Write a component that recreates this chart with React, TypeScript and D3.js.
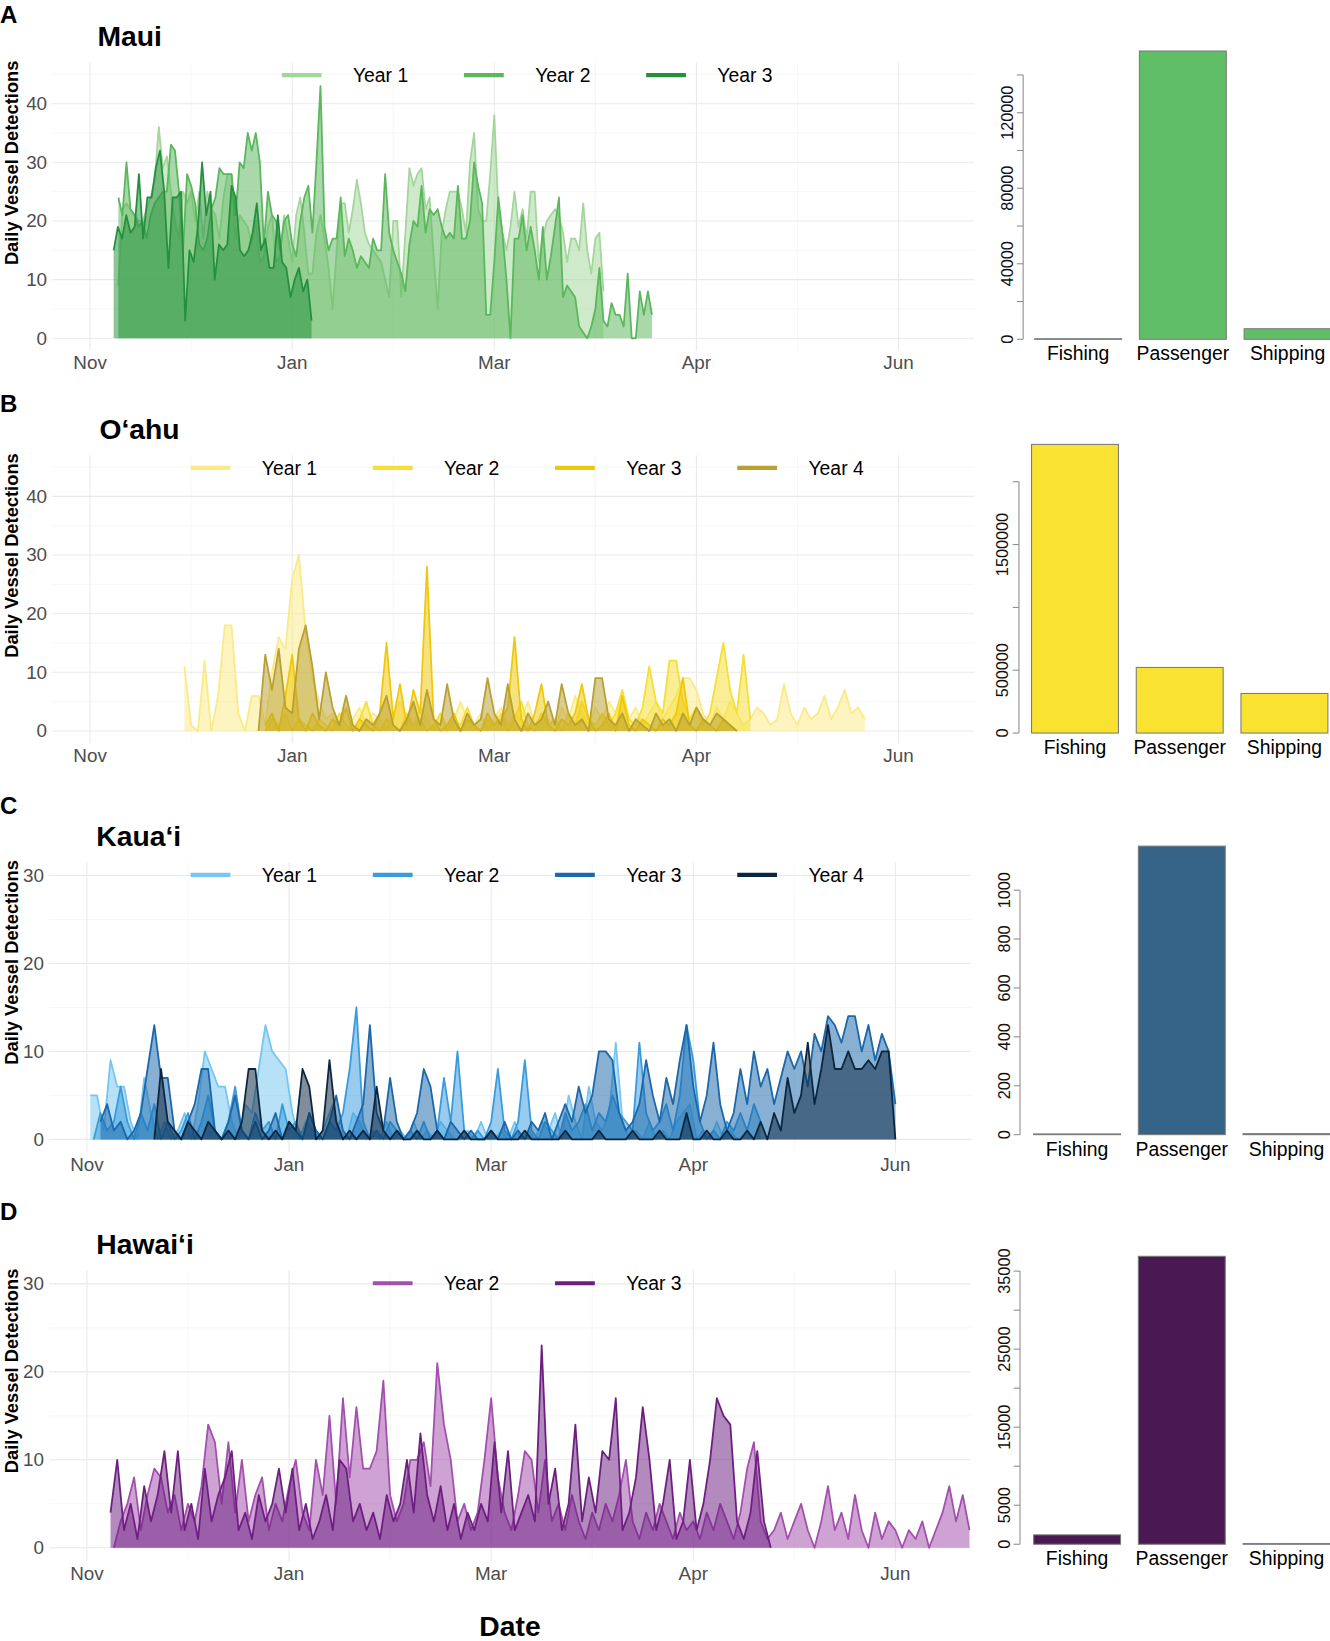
import * as d3 from 'd3';

// Daily vessel detections; x position = days after 1 Nov (axis labels are the original ones)
const mauiYear1 = [
  9, 22, 23, 22, 21, 20, 20, 22, 24, 27, 36, 29, 31, 25, 20, 17, 25, 23, 25, 20,
  25, 17, 25, 22, 21, 17, 24, 28, 28, 17, 21, 20, 19, 16, 20, 13, 14, 19, 21, 13,
  14, 21, 17, 13, 21, 24, 18, 11, 11, 18, 21, 17, 12, 5, 15, 23, 23, 18, 22, 27,
  23, 18, 16, 15, 14, 13, 10, 7, 20, 20, 7, 18, 29, 26, 28, 29, 22, 24, 14, 5,
  18, 22, 25, 25, 25, 22, 18, 30, 35, 22, 20, 20, 28, 38, 22, 18, 15, 19, 25, 19,
  22, 17, 25, 25, 13, 17, 20, 21, 22, 21, 18, 13, 17, 17, 15, 23, 15, 11, 17, 18, 8,
];
const mauiYear2 = [
  24, 21, 30, 22, 21, 19, 20, 17, 21, 23, 24, 25, 25, 33, 32, 25, 15, 28, 26, 23,
  16, 15, 17, 22, 24, 29, 28, 28, 28, 21, 30, 29, 35, 32, 35, 30, 16, 25, 21, 20,
  15, 20, 21, 16, 14, 20, 24, 26, 18, 30, 43, 19, 15, 17, 17, 24, 14, 17, 15, 12,
  14, 13, 12, 17, 15, 15, 28, 18, 15, 13, 11, 8, 16, 20, 19, 26, 18, 22, 21, 22,
  19, 17, 18, 17, 26, 17, 17, 20, 30, 26, 23, 4, 4, 13, 24, 18, 10, 0, 17, 17,
  21, 15, 19, 15, 10, 19, 10, 14, 19, 24, 7, 9, 8, 7, 2, 1, 0, 2, 5, 12,
  3, 2, 6, 4, 4, 2, 11, 0, 0, 8, 4, 8, 4,
];
const mauiYear3 = [
  15, 19, 17, 21, 18, 19, 28, 17, 24, 24, 29, 32, 25, 12, 24, 24, 25, 3, 15, 13,
  19, 30, 21, 25, 10, 16, 15, 16, 26, 24, 15, 14, 15, 18, 23, 15, 17, 12, 12, 21,
  13, 12, 7, 10, 12, 8, 10, 3,
];

const oahuYear1 = [
  11, 1, 0, 12, 0, 6, 18, 18, 3, 0, 6, 6, 1, 10, 16, 14, 26, 30, 17, 9,
  5, 2, 3, 1, 0, 2, 4, 1, 3, 2, 0, 3, 5, 2, 1, 4, 2, 0, 3, 1,
  2, 5, 2, 1, 3, 0, 2, 4, 1, 3, 2, 5, 1, 3, 2, 0, 4, 2, 6, 3,
  1, 4, 2, 5, 3, 6, 2, 4, 1, 3, 5, 2, 4, 6, 9, 9, 7, 3, 1, 4,
  2, 5, 3, 1, 2, 4, 3, 1, 2, 8, 3, 1, 4, 2, 3, 6, 2, 4, 7, 3, 4, 2,
];
const oahuYear2 = [
  0, 2, 1, 3, 0, 2, 1, 0, 2, 1, 0, 3, 1, 0, 2, 5, 1, 0, 2, 1,
  0, 3, 1, 2, 0, 1, 3, 0, 2, 1, 4, 1, 0, 2, 1, 3, 0, 2, 5, 1,
  0, 3, 1, 2, 0, 3, 1, 5, 2, 1, 3, 1, 3, 7, 2, 1, 4, 11, 5, 3,
  12, 12, 5, 2, 4, 1, 3, 9, 15, 7, 3, 13, 2,
];
const oahuYear3 = [
  1, 3, 0, 6, 13, 2, 0, 3, 1, 0, 2, 1, 4, 0, 2, 1, 0, 3, 15, 2,
  8, 1, 7, 3, 28, 2, 0, 1, 3, 0, 2, 1, 0, 3, 1, 2, 4, 16, 2, 0,
  3, 8, 1, 0, 2, 1, 3, 8, 2, 0, 1, 3, 0, 6, 1, 0, 2, 1, 0, 2,
  1, 3, 9, 1, 0, 2, 1, 0, 2, 1, 0,
];
const oahuYear4 = [
  0, 13, 7, 14, 4, 3, 14, 18, 11, 2, 10, 4, 1, 6, 1, 0, 2, 1, 3, 6,
  1, 0, 2, 5, 1, 7, 2, 1, 8, 2, 0, 3, 1, 2, 9, 3, 1, 8, 2, 0,
  3, 1, 2, 5, 1, 8, 3, 1, 2, 0, 9, 9, 2, 1, 3, 0, 2, 1, 0, 3,
  1, 2, 0, 3, 1, 4, 2, 1, 3, 2, 1, 0,
];

const kauaiYear1 = [
  5, 5, 1, 9, 6, 6, 2, 0, 7, 3, 0, 2, 0, 1, 3, 0, 4, 10, 8, 6,
  6, 2, 0, 4, 3, 8, 13, 10, 9, 8, 3, 0, 2, 1, 0, 2, 4, 1, 0, 3,
  2, 0, 1, 0, 2, 0, 1, 0, 2, 0, 1, 0, 2, 1, 0, 0, 1, 0, 2, 0,
  0, 1, 0, 2, 0, 1, 0, 2, 1, 3, 0, 5, 2, 0, 6, 2, 1, 3, 11, 2,
  0, 1, 0, 2, 0, 1, 0, 2, 3, 4, 0, 1, 0, 2, 0, 1, 0,
];
const kauaiYear2 = [
  0, 3, 1, 2, 6, 2, 0, 3, 1, 4, 0, 2, 0, 1, 3, 0, 2, 5, 1, 0,
  2, 6, 1, 0, 3, 1, 2, 0, 4, 1, 2, 0, 3, 1, 0, 2, 1, 3, 8, 15,
  2, 0, 1, 0, 2, 1, 0, 1, 0, 2, 0, 1, 7, 2, 10, 1, 0, 1, 0, 2,
  8, 1, 0, 2, 9, 1, 0, 2, 1, 0, 3, 1, 2, 4, 1, 3, 2, 5, 3, 2,
  1, 11, 3, 1, 2, 4, 1, 5, 13, 9, 2, 0, 1, 0, 2, 1, 3, 1, 4, 2,
];
const kauaiYear3 = [
  2, 4, 1, 2, 0, 1, 3, 8, 13, 7, 7, 1, 0, 2, 4, 8, 8, 1, 0, 2,
  5, 1, 0, 2, 0, 1, 3, 0, 2, 1, 0, 3, 1, 0, 2, 5, 1, 0, 2, 4,
  13, 3, 1, 7, 2, 0, 1, 3, 8, 6, 1, 0, 2, 1, 0, 1, 0, 0, 1, 0,
  2, 0, 1, 0, 2, 1, 3, 0, 2, 4, 2, 6, 3, 5, 10, 10, 9, 3, 1, 2,
  4, 9, 5, 2, 7, 4, 9, 13, 6, 2, 5, 11, 4, 1, 3, 8, 4, 10, 6, 8,
  4, 7, 10, 8, 10, 6, 12, 10, 14, 13, 11, 14, 14, 10, 13, 9, 12, 10, 4,
];
const kauaiYear4 = [
  0, 8, 2, 1, 0, 2, 1, 0, 2, 1, 0, 1, 0, 2, 8, 8, 1, 0, 1, 0,
  2, 1, 8, 6, 0, 1, 9, 2, 0, 1, 0, 1, 0, 6, 1, 0, 1, 0, 0, 1,
  0, 0, 1, 0, 0, 0, 1, 0, 0, 0, 1, 0, 0, 0, 0, 1, 0, 0, 0, 0,
  0, 1, 0, 0, 0, 0, 1, 0, 0, 0, 0, 1, 0, 0, 0, 1, 0, 0, 0, 3,
  0, 0, 1, 0, 0, 1, 0, 0, 1, 0, 2, 0, 3, 1, 7, 3, 5, 11, 4, 8,
  13, 8, 8, 10, 8, 8, 9, 8, 10, 10, 0,
];

const hawaiiYear2 = [
  0, 3, 5, 8, 2, 6, 9, 8, 4, 6, 2, 5, 3, 7, 14, 12, 5, 12, 4, 10,
  3, 6, 8, 2, 5, 3, 7, 10, 4, 2, 10, 6, 15, 5, 17, 8, 16, 9, 9, 11,
  19, 6, 3, 5, 10, 10, 12, 7, 21, 14, 10, 3, 5, 2, 4, 10, 17, 8, 4, 2,
  6, 11, 10, 4, 10, 3, 5, 2, 6, 3, 1, 4, 2, 5, 3, 6, 10, 3, 1, 4,
  2, 5, 3, 1, 4, 2, 3, 1, 4, 2, 5, 3, 1, 4, 9, 12, 3, 1, 2, 4,
  1, 3, 5, 2, 0, 3, 7, 2, 4, 1, 6, 2, 0, 4, 1, 3, 2, 0, 2, 1,
  3, 0, 2, 4, 7, 3, 6, 2,
];
const hawaiiYear3 = [
  4, 10, 2, 5, 1, 7, 3, 6, 11, 4, 11, 2, 5, 1, 9, 3, 6, 8, 11, 2,
  4, 1, 6, 3, 5, 9, 4, 9, 2, 5, 1, 3, 6, 2, 10, 9, 3, 5, 2, 4,
  1, 6, 3, 5, 10, 4, 13, 6, 3, 7, 2, 5, 1, 4, 2, 5, 3, 12, 4, 11,
  2, 4, 6, 3, 23, 5, 9, 2, 5, 14, 3, 8, 4, 11, 10, 17, 2, 4, 8, 16,
  10, 2, 5, 10, 1, 3, 10, 2, 5, 10, 17, 15, 14, 3, 1, 4, 11, 3, 0,
];

const monthTicks = [0, 60, 120, 180, 240];
const monthLabels = ['Nov', 'Jan', 'Mar', 'Apr', 'Jun'];

// Total detections by vessel class
const barCategories = ['Fishing', 'Passenger', 'Shipping'];
const mauiTotals = [300, 152700, 5600];
const oahuTotals = [2297000, 522000, 315000];
const kauaiTotals = [3, 1180, 4];
const hawaiiTotals = [1200, 36900, 80];

interface SeriesDef {
  label: string;
  color: string;
  start: number;
  step: number;
  values: number[];
}

interface PanelDef {
  letter: string;
  letterY: number;
  title: string;
  titleX: number;
  series: SeriesDef[];
  zero: number;
  unit: number;
  yLo: number;
  yHi: number;
  yTicks: number[];
  x0: number;
  totals: number[];
  barColor: string;
  barBase: number;
  barTop: number;
  barMax: number;
  barStep: number;
  barLabels: number[];
  barLeft: number;
  barAxisX: number;
}

const panels: PanelDef[] = [
  {
    letter: 'A', letterY: 22, title: 'Maui', titleX: 93,
    series: [
      { label: 'Year 1', color: '#a3d69b', start: 8.4, step: 1.2, values: mauiYear1 },
      { label: 'Year 2', color: '#5ab75c', start: 8.4, step: 1.2, values: mauiYear2 },
      { label: 'Year 3', color: '#24903f', start: 7, step: 1.25, values: mauiYear3 },
    ],
    zero: 323, unit: 5.6, yLo: -2.1, yHi: 47, yTicks: [0, 10, 20, 30, 40], x0: 86,
    totals: mauiTotals, barColor: '#60be67', barBase: 324, barTop: 71.6, barMax: 140000,
    barStep: 20000, barLabels: [0, 40000, 80000, 120000], barLeft: 988, barAxisX: 977,
  },
  {
    letter: 'B', letterY: 393, title: 'O\u2018ahu', titleX: 95,
    series: [
      { label: 'Year 1', color: '#fbea86', start: 28, step: 2, values: oahuYear1 },
      { label: 'Year 2', color: '#f6de34', start: 52, step: 2, values: oahuYear2 },
      { label: 'Year 3', color: '#efc80c', start: 52, step: 2, values: oahuYear3 },
      { label: 'Year 4', color: '#b8a032', start: 50, step: 2, values: oahuYear4 },
    ],
    zero: 698, unit: 5.6, yLo: -2.1, yHi: 47, yTicks: [0, 10, 20, 30, 40], x0: 86,
    totals: oahuTotals, barColor: '#f9e230', barBase: 700, barTop: 460, barMax: 2000000,
    barStep: 500000, barLabels: [0, 500000, 1500000], barLeft: 985, barAxisX: 973,
  },
  {
    letter: 'C', letterY: 777, title: 'Kaua\u2018i', titleX: 92,
    series: [
      { label: 'Year 1', color: '#75c6f0', start: 1, step: 2, values: kauaiYear1 },
      { label: 'Year 2', color: '#3a9bdc', start: 2, step: 2, values: kauaiYear2 },
      { label: 'Year 3', color: '#1a67aa', start: 4, step: 2, values: kauaiYear3 },
      { label: 'Year 4', color: '#0b2740', start: 20, step: 2, values: kauaiYear4 },
    ],
    zero: 1088, unit: 8.4, yLo: -1.5, yHi: 31.5, yTicks: [0, 10, 20, 30], x0: 83,
    totals: kauaiTotals, barColor: '#366489', barBase: 1083.5, barTop: 850, barMax: 1000,
    barStep: 200, barLabels: [0, 200, 400, 600, 800, 1000], barLeft: 987, barAxisX: 974,
  },
  {
    letter: 'D', letterY: 1165, title: 'Hawai\u2018i', titleX: 92,
    series: [
      { label: 'Year 2', color: '#a24fad', start: 8, step: 2, values: hawaiiYear2 },
      { label: 'Year 3', color: '#6d1f80', start: 7, step: 2, values: hawaiiYear3 },
    ],
    zero: 1478, unit: 8.4, yLo: -1.5, yHi: 31.5, yTicks: [0, 10, 20, 30], x0: 83,
    totals: hawaiiTotals, barColor: '#4a1853', barBase: 1474.6, barTop: 1213.8, barMax: 35000,
    barStep: 5000, barLabels: [0, 5000, 15000, 25000, 35000], barLeft: 987, barAxisX: 974,
  },
];

const FONT = "'Liberation Sans', Arial, Helvetica, sans-serif";
const TICK_GREY = '#4d4d4d';

function TimePanel({ p }: { p: PanelDef }) {
  const x = d3.scaleLinear().domain([0, 240]).range([p.x0, p.x0 + 772]);
  const y = d3.scaleLinear().domain([0, 10]).range([p.zero, p.zero - 10 * p.unit]);
  const left = x(-11.2);
  const right = x(262.5);
  const top = y(p.yHi);
  const bottom = y(p.yLo);
  const minorY = d3.range(5, p.yHi, 10);
  const minorX = d3.range(30, 240, 60);

  const xs = (s: SeriesDef) => (_: number, i: number) => x(s.start + i * s.step);
  const areaPath = (s: SeriesDef) =>
    d3.area<number>().x(xs(s)).y0(y(0)).y1((d) => y(d))(s.values) ?? '';
  const linePath = (s: SeriesDef) =>
    d3.line<number>().x(xs(s)).y((d) => y(d))(s.values) ?? '';

  const n = p.series.length;
  const legendStart = 505 - (174 * (n - 1) + 124) / 2;

  return (
    <g>
      <text x={0} y={p.letterY} fontSize={23} fontWeight="bold">{p.letter}</text>
      <text x={p.titleX} y={top - 16} fontSize={27} fontWeight="bold">{p.title}</text>

      {/* grid */}
      {minorY.map((v) => (
        <line key={`my${v}`} x1={left} x2={right} y1={y(v)} y2={y(v)} stroke="#f3f3f3" strokeWidth={0.7} />
      ))}
      {minorX.map((v) => (
        <line key={`mx${v}`} x1={x(v)} x2={x(v)} y1={top} y2={bottom} stroke="#f3f3f3" strokeWidth={0.7} />
      ))}
      {p.yTicks.map((v) => (
        <line key={`gy${v}`} x1={left} x2={right} y1={y(v)} y2={y(v)} stroke="#e9e9e9" strokeWidth={1} />
      ))}
      {monthTicks.map((v) => (
        <line key={`gx${v}`} x1={x(v)} x2={x(v)} y1={top} y2={bottom} stroke="#e9e9e9" strokeWidth={1} />
      ))}

      {/* areas */}
      {p.series.map((s) => (
        <g key={s.label}>
          <path d={areaPath(s)} fill={s.color} fillOpacity={0.52} />
          <path d={linePath(s)} fill="none" stroke={s.color} strokeWidth={1.7} strokeLinejoin="round" />
        </g>
      ))}

      {/* axes labels */}
      {p.yTicks.map((v) => (
        <text key={`ty${v}`} x={left - 5} y={y(v) + 6} fontSize={18} fill={TICK_GREY} textAnchor="end">{v}</text>
      ))}
      {monthTicks.map((v, i) => (
        <text key={`tx${v}`} x={x(v)} y={bottom + 18} fontSize={18} fill={TICK_GREY} textAnchor="middle">{monthLabels[i]}</text>
      ))}
      <text transform={`translate(17,${top - 2}) rotate(-90)`} textAnchor="end" fontSize={17.5} fontWeight="bold">
        Daily Vessel Detections
      </text>

      {/* legend */}
      {p.series.map((s, i) => {
        const lx = legendStart + i * 174;
        return (
          <g key={`lg${s.label}`}>
            <line x1={lx} x2={lx + 38} y1={top + 12} y2={top + 12} stroke={s.color} strokeWidth={4} />
            <text x={lx + 68} y={top + 18.5} fontSize={18.5}>{s.label}</text>
          </g>
        );
      })}
    </g>
  );
}

function BarPanel({ p }: { p: PanelDef }) {
  const yb = d3.scaleLinear().domain([0, p.barMax]).range([p.barBase, p.barTop]);
  const xb = d3
    .scaleBand<string>()
    .domain(barCategories)
    .range([p.barLeft - 8.5, p.barLeft + 291.5])
    .paddingInner(0.17)
    .paddingOuter(0.085);
  const ticks = d3.range(0, p.barMax + p.barStep / 2, p.barStep);

  return (
    <g>
      <line x1={p.barAxisX} x2={p.barAxisX} y1={yb(0)} y2={yb(p.barMax)} stroke="#8a8a8a" strokeWidth={1} />
      {ticks.map((t) => (
        <line key={`bt${t}`} x1={p.barAxisX - 6} x2={p.barAxisX} y1={yb(t)} y2={yb(t)} stroke="#8a8a8a" strokeWidth={1} />
      ))}
      {p.barLabels.map((t) => (
        <text
          key={`bl${t}`}
          transform={`translate(${p.barAxisX - 10},${yb(t)}) rotate(-90)`}
          textAnchor="middle"
          fontSize={15.5}
          fill="#111"
        >
          {t}
        </text>
      ))}
      {barCategories.map((c, i) => (
        <g key={c}>
          <rect
            x={xb(c)}
            y={yb(p.totals[i])}
            width={xb.bandwidth()}
            height={Math.max(0.6, yb(0) - yb(p.totals[i]))}
            fill={p.barColor}
            stroke="#7a7a7a"
            strokeWidth={1}
          />
          <text x={(xb(c) ?? 0) + xb.bandwidth() / 2} y={p.barBase + 20} fontSize={18.5} textAnchor="middle">
            {c}
          </text>
        </g>
      ))}
    </g>
  );
}

export default function App() {
  return (
    <svg
      width={1330}
      height={1641}
      viewBox="0 0 1270 1567"
      style={{ position: 'absolute', left: 0, top: 0, background: '#fff' }}
      fontFamily={FONT}
    >
      <rect x={0} y={0} width={1270} height={1567} fill="#fff" />
      {panels.map((p) => (
        <g key={p.letter}>
          <TimePanel p={p} />
          <BarPanel p={p} />
        </g>
      ))}
      <text x={487} y={1562} fontSize={27} fontWeight="bold" textAnchor="middle">Date</text>
    </svg>
  );
}
